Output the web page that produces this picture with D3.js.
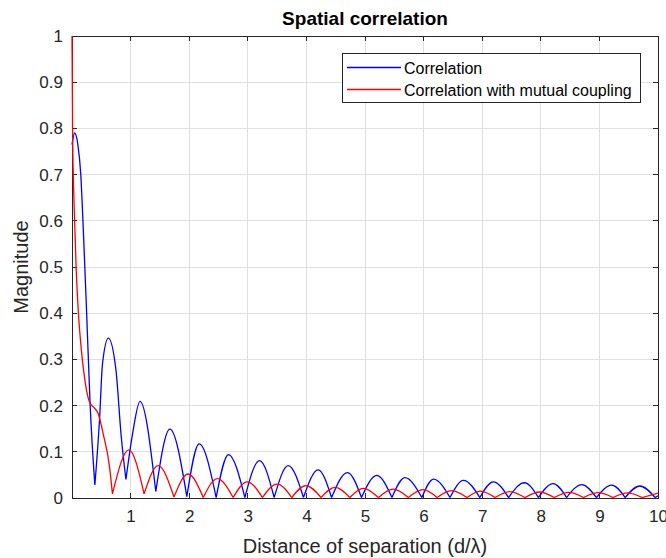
<!DOCTYPE html>
<html><head><meta charset="utf-8">
<script src="https://cdn.jsdelivr.net/npm/d3@7"></script>
<style>body{margin:0;background:#fff;} text{font-family:"Liberation Sans",Arial,sans-serif;}</style>
</head><body><svg id="c" width="666" height="558"></svg>
<script>
// Correlation (blue)
const corrX = [0, 0.045, 0.10, 0.15, 0.19, 0.25, 0.31, 0.39,
  0.47, 0.52, 0.62, 0.75, 0.84, 0.92,
  1.035, 1.16, 1.43, 1.67, 1.96, 2.17, 2.46, 2.67, 2.95, 3.20, 3.45, 3.69, 3.95,
  4.20, 4.43, 4.70, 4.94, 5.20, 5.46, 5.68, 5.97, 6.17, 6.45, 6.68, 6.96, 7.19, 7.45,
  7.72, 7.96, 8.21, 8.44, 8.70, 8.95, 9.21, 9.44, 9.69, 9.95, 10];
const corrY = [0.765, 0.79, 0.765, 0.70, 0.59, 0.40, 0.20, 0.028,
  0.17, 0.29, 0.346, 0.277, 0.133, 0.04,
  0.14, 0.209, 0.014, 0.149, 0.003, 0.117, 0.001, 0.094, 0.001, 0.081, 0.001, 0.070, 0.001,
  0.061, 0.001, 0.055, 0.001, 0.049, 0.001, 0.044, 0.001, 0.041, 0.001, 0.038, 0.001, 0.035, 0.001,
  0.033, 0.001, 0.031, 0.001, 0.029, 0.001, 0.028, 0.001, 0.026, 0.001, 0.005];
// Correlation with mutual coupling (red)
const mcX = [0, 0.01, 0.03, 0.05, 0.07, 0.10, 0.16, 0.22, 0.30, 0.38, 0.45, 0.53, 0.64, 0.69,
  0.97, 1.23, 1.47, 1.74, 1.98, 2.24, 2.48, 2.75, 2.99, 3.25, 3.50, 3.75, 3.99, 4.25,
  4.49, 4.74, 4.97, 5.23, 5.48, 5.74, 5.99, 6.23, 6.48, 6.74, 6.97, 7.22, 7.47, 7.73,
  7.98, 8.23, 8.48, 8.73, 8.98, 9.23, 9.48, 9.73, 10];
const mcY = [1.0, 0.80, 0.66, 0.58, 0.50, 0.42, 0.32, 0.255, 0.207, 0.195, 0.182, 0.14, 0.068, 0.009,
  0.104, 0.009, 0.070, 0.002, 0.052, 0.001, 0.042, 0.001, 0.035, 0.001, 0.030, 0.001, 0.027, 0.001,
  0.023, 0.001, 0.021, 0.001, 0.019, 0.001, 0.018, 0.001, 0.016, 0.001, 0.015, 0.001, 0.014, 0.001,
  0.013, 0.001, 0.012, 0.001, 0.0115, 0.001, 0.011, 0.001, 0.0105];
const xTicks = [1,2,3,4,5,6,7,8,9,10];
const yTicks = [0,0.1,0.2,0.3,0.4,0.5,0.6,0.7,0.8,0.9,1];
const seriesNames = ["Correlation", "Correlation with mutual coupling"];
const seriesColors = ["#0000ff", "#ff0000"];

const L = 72, R = 658, T = 36, B = 498;
const svg = d3.select("#c");
const x = d3.scaleLinear().domain([0, 10]).range([L, R]);
const y = d3.scaleLinear().domain([0, 1]).range([B, T]);
const tc = "#262626";

// grid
const g = svg.append("g");
g.selectAll(".gx").data(xTicks).enter().append("line")
  .attr("x1", d => x(d)).attr("x2", d => x(d)).attr("y1", T).attr("y2", B)
  .attr("stroke", "#dfdfdf").attr("stroke-width", 1).attr("shape-rendering","crispEdges");
g.selectAll(".gy").data(yTicks).enter().append("line")
  .attr("x1", L).attr("x2", R).attr("y1", d => y(d)).attr("y2", d => y(d))
  .attr("stroke", "#dfdfdf").attr("stroke-width", 1).attr("shape-rendering","crispEdges");

// axes
const xAxis = d3.axisBottom(x).tickValues(xTicks).tickSize(0).tickPadding(12).tickFormat(d3.format("d"));
const yAxis = d3.axisLeft(y).tickValues(yTicks).tickSize(0).tickPadding(9).tickFormat(d => d === 0 || d === 1 ? String(d) : d3.format(".1f")(d));
const ax = svg.append("g").attr("transform", `translate(0,${B})`).call(xAxis);
const ay = svg.append("g").attr("transform", `translate(${L},0)`).call(yAxis);
[ax, ay].forEach(a => {
  a.select(".domain").remove();
  a.selectAll("text").attr("fill", tc).style("font-size", "17px");
});
// tick marks (inward, all four sides)
const tl = 5;
const tk = svg.append("g").attr("stroke", tc).attr("stroke-width", 1).attr("shape-rendering","crispEdges");
xTicks.forEach(d => {
  tk.append("line").attr("x1", x(d)).attr("x2", x(d)).attr("y1", B).attr("y2", B - tl);
  tk.append("line").attr("x1", x(d)).attr("x2", x(d)).attr("y1", T).attr("y2", T + tl);
});
yTicks.forEach(d => {
  tk.append("line").attr("x1", L).attr("x2", L + tl).attr("y1", y(d)).attr("y2", y(d));
  tk.append("line").attr("x1", R).attr("x2", R - tl).attr("y1", y(d)).attr("y2", y(d));
});
svg.append("rect").attr("x", L).attr("y", T).attr("width", R - L).attr("height", B - T)
  .attr("fill","none").attr("stroke", tc).attr("stroke-width", 1).attr("shape-rendering","crispEdges");

// curves: split at local minima, draw each arch with monotone curve
function pathFor(xs, ys) {
  const pts = xs.map((v, i) => [v, ys[i]]);
  const cuts = [0];
  for (let i = 1; i < pts.length - 1; i++) {
    if (pts[i][1] < pts[i-1][1] && pts[i][1] < pts[i+1][1]) cuts.push(i);
  }
  cuts.push(pts.length - 1);
  const line = d3.line().x(d => x(d[0])).y(d => y(d[1])).curve(d3.curveMonotoneX);
  let s = "";
  for (let k = 0; k < cuts.length - 1; k++) {
    s += line(pts.slice(cuts[k], cuts[k+1] + 1));
  }
  return s;
}
svg.append("clipPath").attr("id","cp").append("rect")
  .attr("x", L - 1).attr("y", T - 1).attr("width", R - L + 1).attr("height", B - T + 1);
const lines = svg.append("g").attr("clip-path","url(#cp)");
lines.append("path").attr("d", pathFor(corrX, corrY)).attr("fill","none")
  .attr("stroke", seriesColors[0]).attr("stroke-width", 1.3);
lines.append("path").attr("d", pathFor(mcX, mcY)).attr("fill","none")
  .attr("stroke", seriesColors[1]).attr("stroke-width", 1.3);

// titles
svg.append("text").attr("x", 365).attr("y", 25).attr("text-anchor","middle")
  .style("font-size","19px").style("font-weight","bold").attr("fill","#000").text("Spatial correlation");
svg.append("text").attr("x", 365).attr("y", 553).attr("text-anchor","middle")
  .style("font-size","20px").attr("fill", tc).text("Distance of separation (d/λ)");
svg.append("text").attr("transform", `translate(28,${(T + B) / 2}) rotate(-90)`).attr("text-anchor","middle")
  .style("font-size","20px").attr("fill", tc).text("Magnitude");

// legend
const lg = svg.append("g");
lg.append("rect").attr("x", 342).attr("y", 53).attr("width", 298).attr("height", 49)
  .attr("fill","#fff").attr("stroke", tc).attr("stroke-width", 1).attr("shape-rendering","crispEdges");
seriesNames.forEach((n, i) => {
  const yy = 67.5 + i * 22;
  lg.append("line").attr("x1", 347).attr("x2", 401).attr("y1", yy).attr("y2", yy)
    .attr("stroke", seriesColors[i]).attr("stroke-width", 1.3);
  lg.append("text").attr("x", 404).attr("y", yy + 6).style("font-size","16px").attr("fill","#000").text(n);
});
</script></body></html>
